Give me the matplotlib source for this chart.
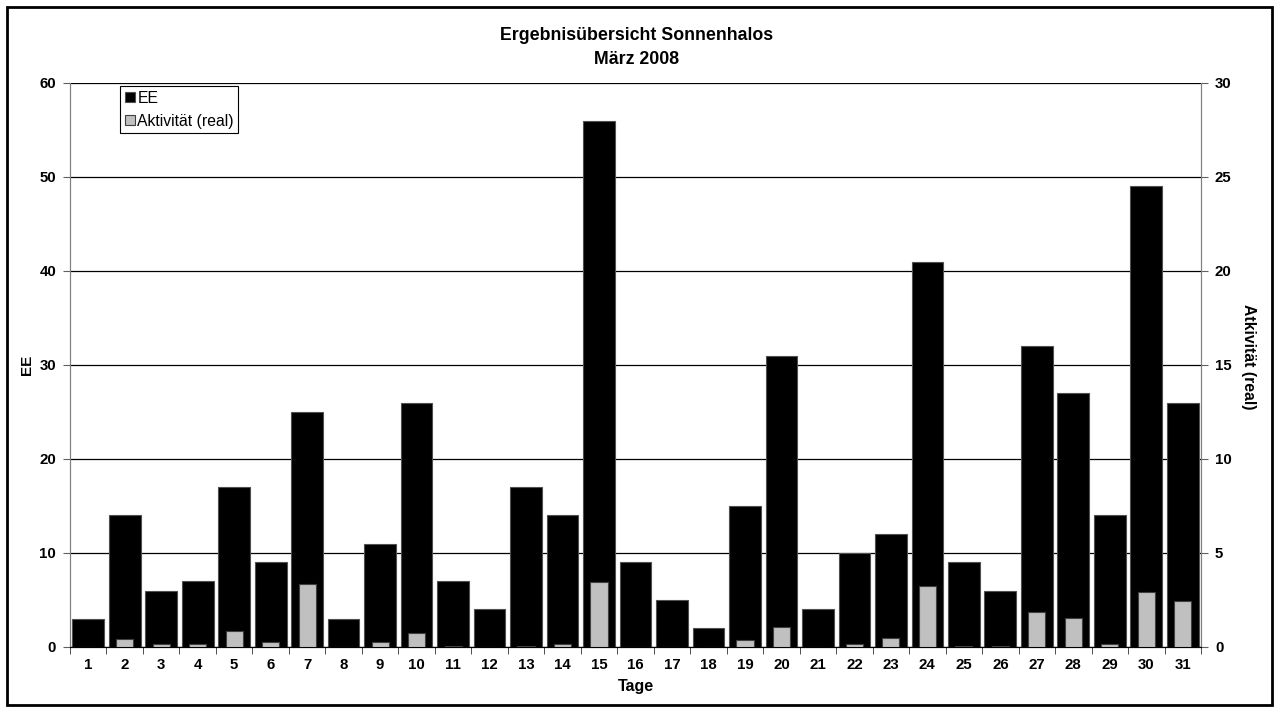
import matplotlib
matplotlib.use("Agg")
import matplotlib.pyplot as plt
from matplotlib.patches import Rectangle
import numpy as np

plt.rcParams['font.family'] = ['Liberation Sans', 'DejaVu Sans']

days = [str(d) for d in range(1, 32)]
ee = [3, 14, 6, 7, 17, 9, 25, 3, 11, 26, 7, 4, 17, 14, 56, 9, 5, 2, 15, 31,
      4, 10, 12, 41, 9, 6, 32, 27, 14, 49, 26]
aktiv = [0, 0.45, 0.15, 0.15, 0.87, 0.25, 3.35, 0, 0.25, 0.77, 0.03, 0, 0.03,
         0.15, 3.46, 0, 0, 0, 0.35, 1.05, 0, 0.15, 0.46, 3.25, 0.03, 0.03,
         1.85, 1.56, 0.15, 2.95, 2.45]

W, H = 1274, 707
fig = plt.figure(figsize=(W / 100, H / 100), dpi=100)
ax = fig.add_axes([70 / W, 1 - 647 / H, (1201 - 70) / W, (647 - 83) / H])
ax2 = ax.twinx()

x = np.arange(len(days))
ax.bar(x, ee, width=0.87, color='black', edgecolor='#505050', linewidth=0.8,
       label='EE', zorder=2)
ax2.bar(x, aktiv, width=0.47, color='#C0C0C0', edgecolor='#404040',
        linewidth=0.8, label='Aktivität (real)', zorder=3)

ax.set_xlim(-0.5, len(days) - 0.5)
ax.set_ylim(0, 60)
ax2.set_ylim(0, 30)
ax.set_yticks(range(0, 61, 10))
ax2.set_yticks(range(0, 31, 5))

ax.set_axisbelow(True)
ax.yaxis.grid(True, color='black', linewidth=0.9)

ax.set_xticks(x)
ax.set_xticklabels(days)
ax.set_xticks(np.arange(-0.5, len(days)), minor=True)
ax.tick_params(axis='x', which='major', length=0, pad=8)
ax.tick_params(axis='x', which='minor', length=5, color='#303030')
ax.tick_params(axis='y', length=5, color='#606060', pad=5)
ax2.tick_params(axis='y', length=5, color='#606060', pad=5)

for a in (ax, ax2):
    for lab in a.get_xticklabels() + a.get_yticklabels():
        lab.set_fontsize(10.8)
        lab.set_fontweight('bold')
    a.spines['top'].set_visible(False)
    a.spines['left'].set_color('#808080')
    a.spines['right'].set_color('#808080')
    a.spines['bottom'].set_color('black')

ax.set_xlabel('Tage', fontsize=11.5, fontweight='bold', labelpad=5)
ax.set_ylabel('EE', fontsize=11, fontweight='bold', labelpad=4)
ax2.set_ylabel('Atkivität (real)', fontsize=11.3, fontweight='bold',
               rotation=-90, labelpad=17)
ax2.yaxis.set_label_coords(1.042, 0.514)
ax2.yaxis.label.set_va('center')

fig.text(0.5, 1 - 36 / H, 'Ergebnisübersicht Sonnenhalos', ha='center',
         va='center', fontsize=12.8, fontweight='bold')
fig.text(0.5, 1 - 59 / H, 'März 2008', ha='center', va='center',
         fontsize=12.8, fontweight='bold')

h1, l1 = ax.get_legend_handles_labels()
h2, l2 = ax2.get_legend_handles_labels()
leg = ax2.legend(h1 + h2, l1 + l2, loc='upper left',
                 bbox_to_anchor=(120 / W, 1 - 86 / H),
                 bbox_transform=fig.transFigure, fontsize=11.3, fancybox=False,
                 framealpha=1, edgecolor='black', handlelength=0.65,
                 handleheight=0.65, handletextpad=0.15, borderpad=0.3,
                 labelspacing=0.5, borderaxespad=0)
leg.get_frame().set_linewidth(0.8)

fig.patches.append(Rectangle((7 / W, 2 / H), 1 - 9 / W, 1 - 9 / H,
                             transform=fig.transFigure, fill=False,
                             edgecolor='black', linewidth=2))

fig.savefig('out.png', dpi=100)
